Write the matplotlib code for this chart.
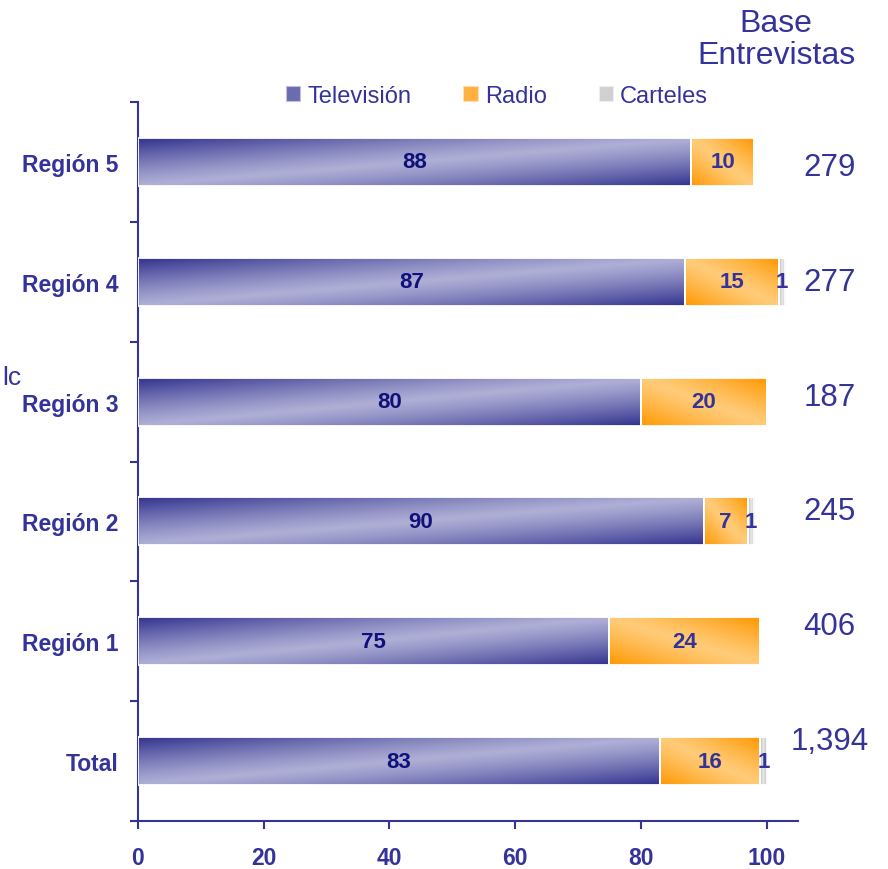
import numpy as np
import matplotlib
matplotlib.use("Agg")
import matplotlib.pyplot as plt
from matplotlib.patches import Patch

plt.rcParams["font.family"] = ["Liberation Sans", "DejaVu Sans"]

categories = ["Total", "Región 1", "Región 2", "Región 3", "Región 4", "Región 5"]
tv = [83, 75, 90, 80, 87, 88]
radio = [16, 24, 7, 20, 15, 10]
carteles = [1, 0, 1, 0, 1, 0]
base = ["1,394", "406", "245", "187", "277", "279"]
series_names = ["Televisión", "Radio", "Carteles"]
xticks = [0, 20, 40, 60, 80, 100]

blue = "#333399"
navy = "#10107a"

# gradient end points (dark, light)
grads = {
    "tv": (np.array([0x33, 0x33, 0x8f]) / 255, np.array([0xae, 0xae, 0xd6]) / 255),
    "radio": (np.array([0xff, 0x98, 0x00]) / 255, np.array([0xff, 0xcb, 0x78]) / 255),
    "cart": (np.array([0xb8, 0xb8, 0xb8]) / 255, np.array([0xe8, 0xe8, 0xe8]) / 255),
}


def gradient(kind, nx=200, ny=40):
    u, v = np.meshgrid(np.linspace(0, 1, nx), np.linspace(0, 1, ny))
    if kind == "tv":
        d = np.abs(v - u)
    elif kind == "radio":
        d = np.abs(u + v - 1)
    else:
        d = np.abs(2 * u - 1)
    d = d ** 1.2
    dark, light = grads[kind]
    return light + (dark - light) * d[..., None]


fig = plt.figure(figsize=(8.88, 8.70), dpi=100)
ax = fig.add_axes([138 / 888, 1 - 822 / 870, (798 - 138) / 888, (822 - 103) / 870])

y = np.arange(len(categories))
h = 0.4
left_r = np.array(tv)
left_c = left_r + np.array(radio)

for vals, lefts, kind in [(tv, 0, "tv"), (radio, left_r, "radio"), (carteles, left_c, "cart")]:
    bars = ax.barh(y, vals, left=lefts, height=h, facecolor="none",
                   edgecolor="white", linewidth=1.3, zorder=3)
    for p in bars.patches:
        if p.get_width() <= 0:
            continue
        x0, y0 = p.get_x(), p.get_y()
        ax.imshow(gradient(kind), extent=(x0, x0 + p.get_width(), y0, y0 + p.get_height()),
                  origin="lower", aspect="auto", zorder=2, interpolation="bilinear")

for i in range(len(categories)):
    ax.text(tv[i] / 2, i, str(tv[i]), ha="center", va="center", fontsize=16,
            fontweight="bold", color=navy, zorder=4)
    ax.text(tv[i] + radio[i] / 2, i, str(radio[i]), ha="center", va="center", fontsize=16,
            fontweight="bold", color=blue, zorder=4)
    if carteles[i] > 0:
        ax.text(left_c[i] + carteles[i] / 2, i, str(carteles[i]), ha="center", va="center",
                fontsize=16, fontweight="bold", color=blue, zorder=4)

base_y = np.linspace(0.111, 0.91, len(base))
for i, b in enumerate(base):
    ax.text(110, base_y[i], b, transform=ax.get_xaxis_transform(), ha="center", va="center",
            fontsize=22.5, color=blue, clip_on=False)

fig.text(776 / 888, 1 - 40 / 870, "Base\nEntrevistas", ha="center", va="center",
         fontsize=23, color=blue, linespacing=1.05)
fig.text(0.002, 1 - 378 / 870, "lc", ha="left", va="center", fontsize=19, color=blue)

ax.set_xlim(0, 105)
ax.set_ylim(-0.5, len(categories) - 0.5)
ax.set_xticks(xticks)
ax.set_xticklabels([str(t) for t in xticks])
ax.set_yticks(y)
ax.set_yticklabels(categories)
ax.set_yticks(np.arange(-0.5, len(categories), 1.0), minor=True)

for s in ["top", "right"]:
    ax.spines[s].set_visible(False)
for s in ["left", "bottom"]:
    ax.spines[s].set_color(blue)
    ax.spines[s].set_linewidth(1.5)

ax.tick_params(axis="y", which="major", length=0, pad=14)
ax.tick_params(axis="y", which="minor", length=6, width=1.5, color=blue, direction="out")
ax.tick_params(axis="x", length=6, width=1.5, color=blue, direction="out", pad=12)
for lab in ax.get_xticklabels() + ax.get_yticklabels():
    lab.set_fontsize(16.5)
    lab.set_fontweight("bold")
    lab.set_color(blue)

handles = [Patch(facecolor="#6b6bb0", edgecolor="#c0c0e0", linewidth=0.8),
           Patch(facecolor="#ffb040", edgecolor="#ffe0b0", linewidth=0.8),
           Patch(facecolor="#d0d0d0", edgecolor="#eeeeee", linewidth=0.8)]
leg = fig.legend(handles, series_names, loc="center", bbox_to_anchor=(497 / 888, 1 - 97 / 870),
                 ncol=3, frameon=False, fontsize=17, handlelength=0.6, handleheight=0.6,
                 handletextpad=0.3, columnspacing=2.2)
for t in leg.get_texts():
    t.set_color(blue)

fig.savefig("out.png", dpi=100)
